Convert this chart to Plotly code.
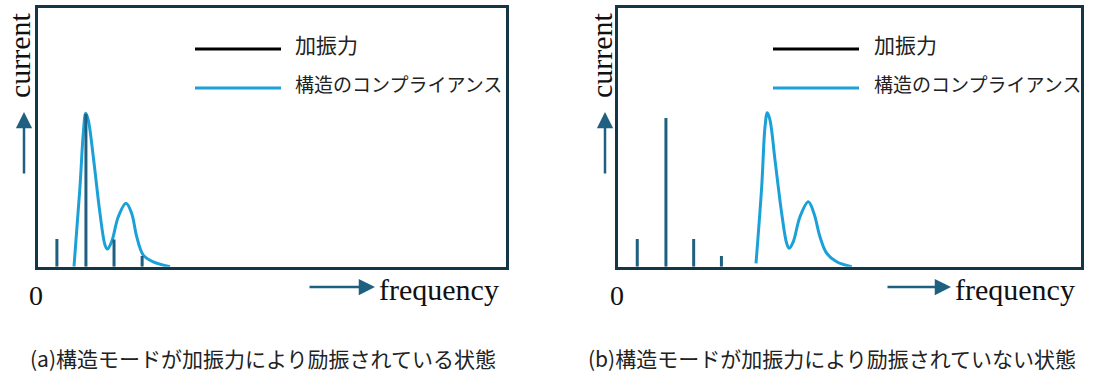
import plotly.graph_objects as go

W, H = 1106, 372

# ---- data (arbitrary units: frequency 0-100, current 0-100) ----
force_freq = [4.1, 10.3, 16.3, 22.3]
force_amp_a = [10.7, 59.0, 10.5, 4.1]
force_amp_b = [10.7, 57.5, 10.7, 4.1]

comp_freq_a = [7.75, 9.03, 9.74, 10.25, 10.80, 11.87, 13.30, 14.37, 14.86, 15.80,
               17.21, 18.86, 20.07, 21.14, 22.55, 24.68, 28.26]
comp_amp_a = [0, 30.9, 51.6, 59.3, 56.7, 42.5, 20.6, 8.4, 6.8, 9.7,
              19.3, 24.5, 20.6, 11.6, 4.5, 1.9, 0]
comp_freq_b = [29.78, 31.01, 31.73, 32.22, 32.81, 33.89, 35.34, 36.42, 36.98, 37.85,
               39.29, 41.09, 42.32, 43.61, 45.07, 47.23, 50.48]
comp_amp_b = [1.3, 30.9, 54.1, 59.5, 56.7, 41.2, 20.6, 9.0, 7.1, 9.7,
              19.3, 25.1, 20.6, 11.6, 5.2, 1.9, 0]

legend_labels = ["加振力", "構造のコンプライアンス"]
captions = ["(a)構造モードが加振力により励振されている状態",
            "(b)構造モードが加振力により励振されていない状態"]

BOX = "#143646"
BAR = "#1F5F80"
CURVE = "#1BA1D8"
ARROW = "#1F5F80"
SERIF = "Liberation Serif, Times New Roman, serif"
CJK = "Noto Sans CJK JP, sans-serif"


def px(x):
    return x / W


def py(y):
    return 1 - y / H


def stems(xs, ys):
    sx, sy = [], []
    for x, y in zip(xs, ys):
        sx += [x, x, None]
        sy += [0, y, None]
    return sx, sy


fig = go.Figure()

panels = [
    dict(xa="x", ya="y", cf=comp_freq_a, ca=comp_amp_a, fa=force_amp_a,
         leg_line=(195, 281), leg_text=293,
         cur_x=20, varrow_x=24, harrow=(308, 375), freq_x=439, zero_x=36,
         cap_x=262.5, cap=captions[0]),
    dict(xa="x2", ya="y2", cf=comp_freq_b, ca=comp_amp_b, fa=force_amp_b,
         leg_line=(773, 859), leg_text=872,
         cur_x=602, varrow_x=605, harrow=(886, 951), freq_x=1015, zero_x=617,
         cap_x=831.5, cap=captions[1]),
]

shapes = []
annotations = []

for p in panels:
    fig.add_trace(go.Scatter(x=p["cf"], y=p["ca"], mode="lines",
                             line=dict(color=CURVE, width=3, shape="spline", smoothing=1.0),
                             xaxis=p["xa"], yaxis=p["ya"], showlegend=False, hoverinfo="skip"))
    sx, sy = stems(force_freq, p["fa"])
    fig.add_trace(go.Scatter(x=sx, y=sy, mode="lines",
                             line=dict(color=BAR, width=3),
                             xaxis=p["xa"], yaxis=p["ya"], showlegend=False, hoverinfo="skip"))

    # manual legend
    for i, (col, yy, fs) in enumerate([("#000000", 49, 21), (CURVE, 88, 19)]):
        shapes.append(dict(type="line", xref="paper", yref="paper",
                           x0=px(p["leg_line"][0]), x1=px(p["leg_line"][1]),
                           y0=py(yy), y1=py(yy), line=dict(color=col, width=3)))
        annotations.append(dict(text=legend_labels[i], xref="paper", yref="paper",
                                x=px(p["leg_text"]), y=py(yy - 5), xanchor="left", yanchor="middle",
                                showarrow=False, font=dict(family=CJK, size=fs, color="#222222")))

    # axis labels
    annotations.append(dict(text="current", xref="paper", yref="paper",
                            x=px(p["cur_x"]), y=py(55), textangle=-90,
                            xanchor="center", yanchor="middle", showarrow=False,
                            font=dict(family=SERIF, size=30, color="#111111")))
    annotations.append(dict(text="frequency", xref="paper", yref="paper",
                            x=px(p["freq_x"]), y=py(289), xanchor="center", yanchor="middle",
                            showarrow=False, font=dict(family=SERIF, size=30, color="#111111")))
    annotations.append(dict(text="0", xref="paper", yref="paper",
                            x=px(p["zero_x"]), y=py(295), xanchor="center", yanchor="middle",
                            showarrow=False, font=dict(family=SERIF, size=28, color="#111111")))
    # arrows
    annotations.append(dict(text="", xref="paper", yref="paper",
                            x=px(p["varrow_x"]), y=py(112), ax=0, ay=63,
                            showarrow=True, arrowhead=2, arrowsize=1.3, arrowwidth=2.5,
                            arrowcolor=ARROW, standoff=0))
    annotations.append(dict(text="", xref="paper", yref="paper",
                            x=px(p["harrow"][1]), y=py(287), ax=-(p["harrow"][1] - p["harrow"][0]), ay=0,
                            showarrow=True, arrowhead=2, arrowsize=1.3, arrowwidth=2.5,
                            arrowcolor=ARROW, standoff=0))
    # caption
    annotations.append(dict(text=p["cap"], xref="paper", yref="paper",
                            x=px(p["cap_x"]), y=py(358), xanchor="center", yanchor="middle",
                            showarrow=False, font=dict(family=CJK, size=21, color="#222222")))

axis_common = dict(showline=True, linewidth=3, linecolor=BOX, mirror=True,
                   showgrid=False, zeroline=False, showticklabels=False, ticks="",
                   fixedrange=True)
ydom = [py(266.7), py(8)]

fig.update_layout(
    width=W, height=H,
    margin=dict(l=0, r=0, t=0, b=0),
    paper_bgcolor="white", plot_bgcolor="white",
    showlegend=False,
    xaxis=dict(domain=[px(37.7), px(506.0)], range=[0, 100], **axis_common),
    yaxis=dict(domain=ydom, range=[0, 100], **axis_common),
    xaxis2=dict(domain=[px(618.3), px(1080.7)], range=[0, 100], anchor="y2", **axis_common),
    yaxis2=dict(domain=ydom, range=[0, 100], anchor="x2", **axis_common),
    shapes=shapes,
    annotations=annotations,
)

fig.write_html("out.html", config={"displayModeBar": False},
               post_script="document.body.style.margin='0';document.body.style.overflow='hidden';")
